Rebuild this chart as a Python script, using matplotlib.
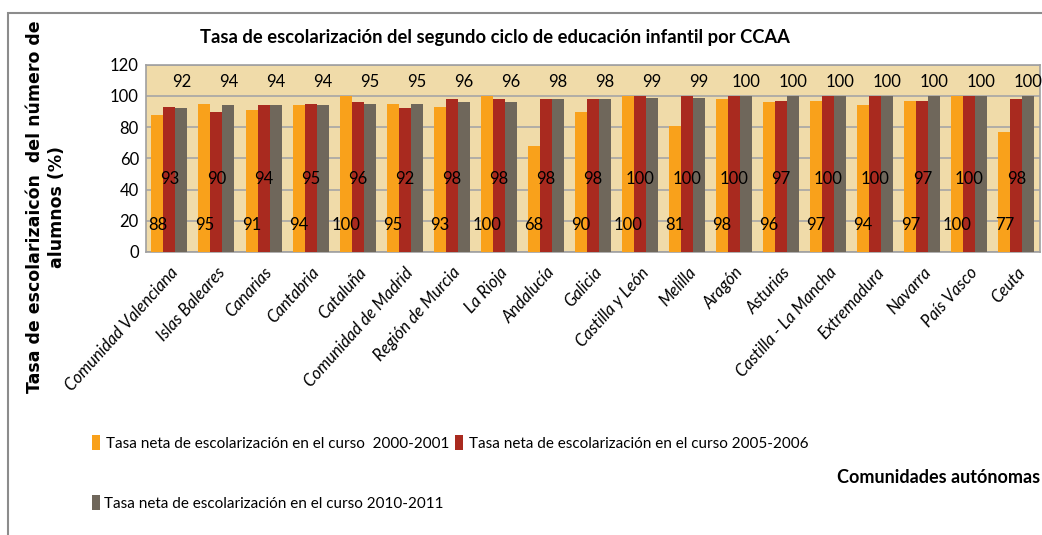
import numpy as np
import matplotlib
matplotlib.use("Agg")
import matplotlib.pyplot as plt
from matplotlib.patches import Rectangle

# data
comunidades = ["Comunidad Valenciana", "Islas Baleares", "Canarias", "Cantabria",
               "Cataluña", "Comunidad de Madrid", "Región de Murcia", "La Rioja",
               "Andalucía", "Galicia", "Castilla y León", "Melilla", "Aragón",
               "Asturias", "Castilla - La Mancha", "Extremadura", "Navarra",
               "País Vasco", "Ceuta"]
curso_2000 = [88, 95, 91, 94, 100, 95, 93, 100, 68, 90, 100, 81, 98, 96, 97, 94, 97, 100, 77]
curso_2005 = [93, 90, 94, 95, 96, 92, 98, 98, 98, 98, 100, 100, 100, 97, 100, 100, 97, 100, 98]
curso_2010 = [92, 94, 94, 94, 95, 95, 96, 96, 98, 98, 99, 99, 100, 100, 100, 100, 100, 100, 100]
series_names = ["Tasa neta de escolarización en el curso  2000-2001",
                "Tasa neta de escolarización en el curso 2005-2006",
                "Tasa neta de escolarización en el curso 2010-2011"]

colors = ["#F9A11B", "#A92A1F", "#6F675B"]
font = ["Lato", "DejaVu Sans"]

fig = plt.figure(figsize=(10.42, 5.35), dpi=100)
ax = fig.add_axes([0.140, 0.529, 0.858, 0.350])
ax.set_facecolor("#F0DBA9")

x = np.arange(len(comunidades))
w = 0.255
bars = []
for i, (vals, c) in enumerate(zip([curso_2000, curso_2005, curso_2010], colors)):
    b = ax.bar(x + (i - 1) * w, vals, w, color=c, label=series_names[i], zorder=3)
    bars.append(b)

# data labels placed like the Excel original
label_y = [17, 47, 109]
for i, vals in enumerate([curso_2000, curso_2005, curso_2010]):
    for xi, v in zip(x, vals):
        ax.text(xi + (i - 1) * w, label_y[i], str(v), ha="center", va="center",
                fontsize=12, family=font, color="black", zorder=5)

ax.set_xlim(-0.5, len(comunidades) - 0.5)
ax.set_ylim(0, 120)
ax.set_yticks(range(0, 121, 20))
ax.yaxis.grid(True, color="#A6A6A6", linewidth=1.2, zorder=1)
ax.tick_params(axis="y", length=0, labelsize=12, pad=5)
ax.tick_params(axis="x", length=0, labelsize=12, pad=9)
for lab in ax.get_yticklabels():
    lab.set_family(font)
ax.set_xticks(x)
ax.set_xticklabels(comunidades, rotation=48, ha="right", rotation_mode="anchor",
                   fontsize=12, family=font, style="italic")
for s in ax.spines.values():
    s.set_color("#A0A0A0")
    s.set_linewidth(1.2)

fig.text(0.192, 0.93, "Tasa de escolarización del segundo ciclo de educación infantil por CCAA",
         fontsize=13.2, fontweight="bold", family=font, ha="left", va="center")
fig.text(0.044, 0.613, "Tasa de escolarizaicón  del número de\nalumnos (%)",
         rotation=90, fontsize=12.5, fontweight="bold", ha="center", va="center",
         linespacing=1.25)
fig.text(0.998, 0.107, "Comunidades autónomas", fontsize=13, fontweight="bold",
         family=font, ha="right", va="center")

# legend, laid out in two rows like the original
leg = fig.legend(handles=bars[:2], loc="center left", bbox_to_anchor=(0.075, 0.172),
                 ncol=2, frameon=False, handlelength=0.5, handleheight=1.1,
                 handletextpad=0.4, columnspacing=0.4, prop={"family": font, "size": 11})
leg2 = fig.legend(handles=bars[2:], loc="center left", bbox_to_anchor=(0.075, 0.060),
                  frameon=False, handlelength=0.5, handleheight=1.1,
                  handletextpad=0.3, prop={"family": font, "size": 11})

# outer chart frame
fig.patches.append(Rectangle((0.008, -0.05), 1.2, 1.025, transform=fig.transFigure,
                             fill=False, edgecolor="#8C8C8C", linewidth=1.5))

fig.savefig("out.png", dpi=100)
